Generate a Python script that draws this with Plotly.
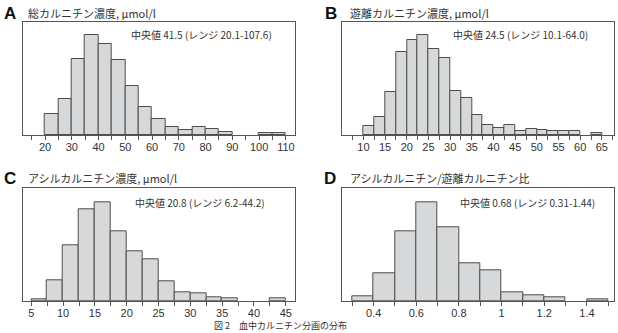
import plotly.graph_objects as go

W, H = 618, 333

# ---- data (bin start, bin width, counts per bin) ----
a_start, a_width = 20, 5
a_counts = [21, 36, 76, 100, 91, 75, 49, 28, 16, 8, 5, 8, 6, 3, 0, 0, 2, 2]

b_start, b_width = 10, 2.5
b_counts = [9, 18, 43, 83, 95, 100, 86, 77, 44, 37, 20, 10, 7, 10, 4, 6, 5, 4, 4, 4, 0, 2]

c_start, c_width = 5, 2.5
c_counts = [2, 21, 56, 92, 99, 70, 50, 42, 20, 9, 8, 4, 3, 0, 0, 3]

d_start, d_width = 0.3, 0.1
d_counts = [5, 28, 70, 99, 74, 38, 31, 9, 6, 4, 0, 2]

letters = ["A", "B", "C", "D"]
titles = ["総カルニチン濃度, μmol/l", "遊離カルニチン濃度, μmol/l",
          "アシルカルニチン濃度, μmol/l", "アシルカルニチン/遊離カルニチン比"]
notes = ["中央値 41.5 (レンジ 20.1-107.6)", "中央値 24.5 (レンジ 10.1-64.0)",
         "中央値 20.8 (レンジ 6.2-44.2)", "中央値 0.68 (レンジ 0.31-1.44)"]
caption = "図 2　血中カルニチン分画の分布"

panels = [
    dict(start=a_start, width=a_width, counts=a_counts, xr=[11.67, 113.4], dtick=10, minor=5,
         box=(22.7, 295, 22, 135), letter=(10, 13), title=(26, 13), note=(274, 35)),
    dict(start=b_start, width=b_width, counts=b_counts, xr=[5.12, 67.8], dtick=5, minor=2.5,
         box=(342.3, 614, 22, 135), letter=(331, 13), title=(348, 13), note=(590, 35)),
    dict(start=c_start, width=c_width, counts=c_counts, xr=[3.65, 46.45], dtick=5, minor=2.5,
         box=(22.7, 295, 188.3, 301), letter=(10, 178), title=(26, 178), note=(267, 202)),
    dict(start=d_start, width=d_width, counts=d_counts, xr=[0.253, 1.527], dtick=0.2, minor=0.1,
         box=(342.3, 614, 188.3, 301), letter=(330, 178), title=(348, 178), note=(597, 202)),
]

def px(x):
    return x / W

def py(y):
    return 1 - y / H

fig = go.Figure()
layout = dict(
    width=W, height=H, margin=dict(l=0, r=0, t=0, b=0),
    paper_bgcolor="white", plot_bgcolor="white", showlegend=False,
    font=dict(family="Noto Sans CJK JP, Noto Sans, sans-serif", color="#333"),
    bargap=0,
)
annotations = []
for i, p in enumerate(panels):
    n = i + 1
    xa = "x" if n == 1 else f"x{n}"
    ya = "y" if n == 1 else f"y{n}"
    centers = [p["start"] + p["width"] * (k + 0.5) for k in range(len(p["counts"]))]
    vals = [v if v > 0 else None for v in p["counts"]]
    fig.add_trace(go.Bar(
        x=centers, y=vals, width=p["width"], xaxis=xa, yaxis=ya,
        marker=dict(color="#d6d8da", line=dict(color="#4d4d4d", width=1)),
        hoverinfo="skip",
    ))
    x0, x1, y0, y1 = p["box"]
    layout["xaxis" if n == 1 else f"xaxis{n}"] = dict(
        domain=[px(x0), px(x1)], range=p["xr"], anchor=ya,
        showline=True, mirror=True, linecolor="#555", linewidth=1,
        showgrid=False, zeroline=False,
        tick0=0, dtick=p["dtick"], ticks="outside", ticklen=4, tickcolor="#555",
        ticklabelstandoff=-2,
        tickfont=dict(size=11, color="#333", family="Liberation Sans, Arial, sans-serif"),
        minor=dict(tick0=0, dtick=p["minor"], ticks="outside", ticklen=4, tickcolor="#555", showgrid=False),
    )
    layout["yaxis" if n == 1 else f"yaxis{n}"] = dict(
        domain=[py(y1), py(y0)], range=[0, 113], anchor=xa,
        showline=True, mirror=True, linecolor="#555", linewidth=1,
        showgrid=False, zeroline=False, showticklabels=False, ticks="",
    )
    lx, ly = p["letter"]
    annotations.append(dict(text=f"<b>{letters[i]}</b>", x=px(lx), y=py(ly), xref="paper", yref="paper",
                            xanchor="center", yanchor="middle", showarrow=False,
                            font=dict(size=17, color="#111", family="Liberation Sans, Arial, sans-serif")))
    tx, ty = p["title"]
    annotations.append(dict(text=titles[i], x=px(tx), y=py(ty), xref="paper", yref="paper",
                            xanchor="left", yanchor="middle", showarrow=False,
                            font=dict(size=11, color="#333")))
    nx, ny = p["note"]
    annotations.append(dict(text=notes[i], x=px(nx), y=py(ny), xref="paper", yref="paper",
                            xanchor="right", yanchor="middle", showarrow=False,
                            font=dict(size=10, color="#333")))

annotations.append(dict(text=caption, x=px(213), y=py(333), xref="paper", yref="paper",
                        xanchor="left", yanchor="bottom", showarrow=False, borderpad=0,
                        font=dict(size=9, color="#333")))
layout["annotations"] = annotations
fig.update_layout(**layout)
fig.write_html("out.html")
